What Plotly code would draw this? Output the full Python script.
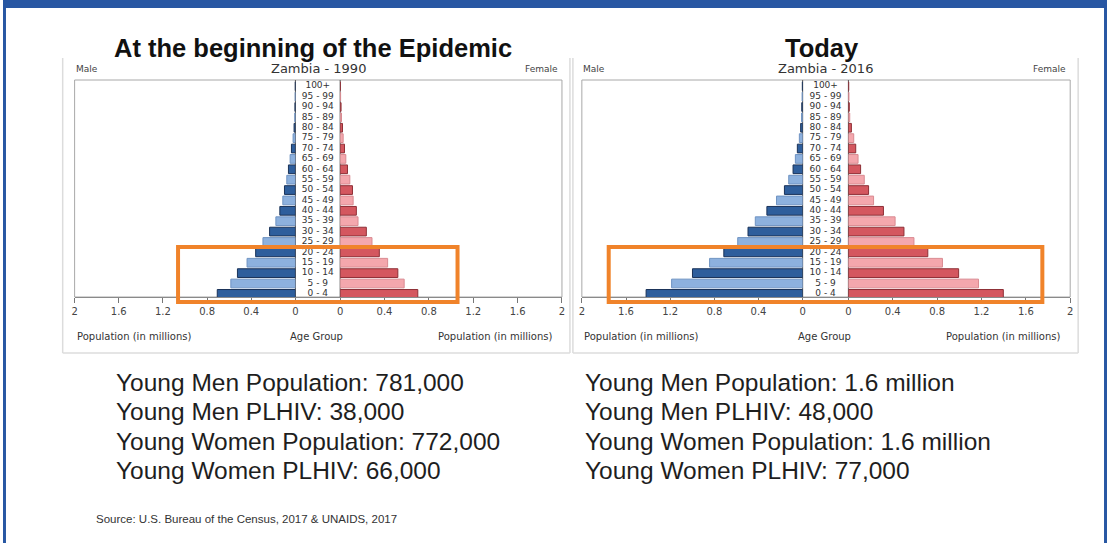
import plotly.graph_objects as go

W, H = 1110, 543

age_groups = ["0 - 4", "5 - 9", "10 - 14", "15 - 19", "20 - 24", "25 - 29", "30 - 34",
              "35 - 39", "40 - 44", "45 - 49", "50 - 54", "55 - 59", "60 - 64", "65 - 69",
              "70 - 74", "75 - 79", "80 - 84", "85 - 89", "90 - 94", "95 - 99", "100+"]

male_1990 = [0.708, 0.585, 0.525, 0.438, 0.360, 0.294, 0.234, 0.177, 0.141, 0.114, 0.099,
             0.078, 0.063, 0.048, 0.036, 0.021, 0.012, 0.006, 0.004, 0.002, 0.001]
female_1990 = [0.700, 0.577, 0.520, 0.428, 0.353, 0.287, 0.236, 0.161, 0.146, 0.117, 0.111,
               0.087, 0.066, 0.051, 0.039, 0.027, 0.021, 0.012, 0.008, 0.004, 0.002]
male_2016 = [1.418, 1.187, 0.998, 0.843, 0.714, 0.588, 0.495, 0.429, 0.324, 0.237, 0.165,
             0.126, 0.087, 0.066, 0.048, 0.030, 0.018, 0.010, 0.008, 0.005, 0.003]
female_2016 = [1.397, 1.173, 0.994, 0.848, 0.716, 0.591, 0.501, 0.421, 0.316, 0.227, 0.182,
               0.143, 0.110, 0.087, 0.066, 0.048, 0.027, 0.012, 0.008, 0.005, 0.003]

tick_vals = [0, 0.4, 0.8, 1.2, 1.6, 2]
tick_text = ["0", "0.4", "0.8", "1.2", "1.6", "2"]

chart_titles = ["At the beginning of the Epidemic", "Today"]
chart_subtitles = ["Zambia - 1990", "Zambia - 2016"]

stats_1990 = ["Young Men Population: 781,000", "Young Men PLHIV: 38,000",
              "Young Women Population: 772,000", "Young Women PLHIV: 66,000"]
stats_2016 = ["Young Men Population: 1.6 million", "Young Men PLHIV: 48,000",
              "Young Women Population: 1.6 million", "Young Women PLHIV: 77,000"]
source_text = "Source: U.S. Bureau of the Census, 2017 & UNAIDS, 2017"


def px(x):
    return x / W


def py(y):
    return 1 - y / H


BLUE_D, BLUE_L = "#2e5e9c", "#8db1de"
RED_D, RED_L = "#d4575f", "#f4a7ad"
BLUE_D_LINE, BLUE_L_LINE = "#1a3258", "#6f93c2"
RED_D_LINE, RED_L_LINE = "#8e2f36", "#d98a91"

male_fill = [BLUE_D if i % 2 == 0 else BLUE_L for i in range(len(age_groups))]
male_line = [BLUE_D_LINE if i % 2 == 0 else BLUE_L_LINE for i in range(len(age_groups))]
female_fill = [RED_D if i % 2 == 0 else RED_L for i in range(len(age_groups))]
female_line = [RED_D_LINE if i % 2 == 0 else RED_L_LINE for i in range(len(age_groups))]

CHART_FONT = "DejaVu Sans"
TEXT_FONT = "Liberation Sans, Arial"

fig = go.Figure()

panels = [
    dict(left=72, mzero=294, fzero=339, right=562, male=male_1990, female=female_1990,
         title_x=312, sub_x=317, frame=(60, 570), stats=stats_1990, stats_x=112,
         box=(176, 457)),
    dict(left=582, mzero=804, fzero=850, right=1073, male=male_2016, female=female_2016,
         title_x=823, sub_x=827, frame=(573, 1081), stats=stats_2016, stats_x=583,
         box=(609, 1045)),
]

TOP, BOTTOM = 80, 297
ydom = [py(BOTTOM), py(TOP)]

layout_axes = {}
shapes = []
annotations = []
ax_i = 0
for p_i, p in enumerate(panels):
    names = []
    for k in range(3):
        ax_i += 1
        names.append("x" if ax_i == 1 else f"x{ax_i}")
    xm, xf, xc = names
    fig.add_trace(go.Bar(
        y=age_groups, x=p["male"], orientation="h", xaxis=xm, yaxis="y",
        marker=dict(color=male_fill, line=dict(color=male_line, width=1)),
        showlegend=False, hoverinfo="x+y"))
    fig.add_trace(go.Bar(
        y=age_groups, x=p["female"], orientation="h", xaxis=xf, yaxis="y",
        marker=dict(color=female_fill, line=dict(color=female_line, width=1)),
        showlegend=False, hoverinfo="x+y"))
    fig.add_trace(go.Scatter(
        y=age_groups, x=[0] * len(age_groups), mode="text", text=age_groups,
        textfont=dict(family=CHART_FONT, size=9, color="#333333"),
        xaxis=xc, yaxis="y", showlegend=False, hoverinfo="skip", cliponaxis=False))

    common = dict(showgrid=False, zeroline=False, anchor="y", fixedrange=True,
                  showline=True, linecolor="#8a8a8a", linewidth=1,
                  ticks="outside", ticklen=5, tickcolor="#777777",
                  tickvals=tick_vals, ticktext=tick_text,
                  tickfont=dict(family=CHART_FONT, size=10, color="#444444"))
    layout_axes["xaxis" if xm == "x" else "xaxis" + xm[1:]] = dict(
        domain=[px(p["left"]), px(p["mzero"])], range=[2, 0], **common)
    layout_axes["xaxis" + xf[1:]] = dict(
        domain=[px(p["fzero"]), px(p["right"])], range=[0, 2], **common)
    layout_axes["xaxis" + xc[1:]] = dict(
        domain=[px(p["mzero"]), px(p["fzero"])], range=[-1, 1], anchor="y",
        showgrid=False, zeroline=False, showline=True, linecolor="#8a8a8a",
        showticklabels=False, ticks="", fixedrange=True)

    fl, fr = p["frame"]
    for (x0, y0, x1, y1) in [(fl, 58, fl, 353), (fr, 58, fr, 353), (fl, 353, fr, 353)]:
        shapes.append(dict(type="line", xref="paper", yref="paper",
                           x0=px(x0), y0=py(y0), x1=px(x1), y1=py(y1),
                           line=dict(color="#dcdcdc", width=1.5), layer="below"))
    shapes.append(dict(type="rect", xref="paper", yref="paper",
                       x0=px(p["left"]), y0=py(BOTTOM), x1=px(p["right"]), y1=py(TOP),
                       line=dict(color="#a8a8a8", width=1), layer="below"))
    for zx in (p["mzero"], p["fzero"]):
        shapes.append(dict(type="line", xref="paper", yref="paper",
                           x0=px(zx), y0=py(BOTTOM), x1=px(zx), y1=py(TOP),
                           line=dict(color="#555555", width=1), layer="below"))
    bx0, bx1 = p["box"]
    shapes.append(dict(type="rect", xref="paper", yref="paper",
                       x0=px(bx0), y0=py(302), x1=px(bx1), y1=py(247),
                       line=dict(color="#f0832a", width=4), layer="above"))

    annotations.append(dict(text="<b>" + chart_titles[p_i] + "</b>", x=px(p["title_x"]), y=py(48),
                            xanchor="center", yanchor="middle",
                            font=dict(family=TEXT_FONT, size=25.5, color="#111111")))
    annotations.append(dict(text=chart_subtitles[p_i], x=px(p["sub_x"]), y=py(68),
                            xanchor="center", yanchor="middle",
                            font=dict(family=CHART_FONT, size=13, color="#333333")))
    annotations.append(dict(text="Male", x=px(p["left"] - 1), y=py(69), xanchor="left",
                            yanchor="middle", font=dict(family=CHART_FONT, size=9, color="#444444")))
    annotations.append(dict(text="Female", x=px(p["right"] - 2), y=py(69), xanchor="right",
                            yanchor="middle", font=dict(family=CHART_FONT, size=9, color="#444444")))
    annotations.append(dict(text="Population (in millions)", x=px(p["left"]), y=py(336),
                            xanchor="left", yanchor="middle",
                            font=dict(family=CHART_FONT, size=10, color="#333333")))
    annotations.append(dict(text="Population (in millions)", x=px(p["right"] - 8), y=py(336),
                            xanchor="right", yanchor="middle",
                            font=dict(family=CHART_FONT, size=10, color="#333333")))
    annotations.append(dict(text="Age Group", x=px((p["mzero"] + p["fzero"]) / 2 - 1), y=py(336),
                            xanchor="center", yanchor="middle",
                            font=dict(family=CHART_FONT, size=10, color="#333333")))
    for j, line in enumerate(p["stats"]):
        annotations.append(dict(text=line, x=px(p["stats_x"]), y=py(382 + 29.5 * j),
                                xanchor="left", yanchor="middle",
                                font=dict(family=TEXT_FONT, size=24.5, color="#1e1e1e")))

annotations.append(dict(text=source_text, x=px(91), y=py(519), xanchor="left", yanchor="middle",
                        font=dict(family=TEXT_FONT, size=11.5, color="#333333")))
for a in annotations:
    a.update(xref="paper", yref="paper", showarrow=False)

shapes += [
    dict(type="rect", xref="paper", yref="paper", x0=0, x1=1, y0=py(8), y1=1,
         fillcolor="#2857a3", line=dict(width=0), layer="below"),
    dict(type="rect", xref="paper", yref="paper", x0=0, x1=px(3), y0=0, y1=1,
         fillcolor="#2857a3", line=dict(width=0), layer="below"),
    dict(type="rect", xref="paper", yref="paper", x0=px(1107), x1=1, y0=0, y1=1,
         fillcolor="#2857a3", line=dict(width=0), layer="below"),
]

fig.update_layout(
    width=W, height=H, margin=dict(l=0, r=0, t=0, b=0),
    paper_bgcolor="white", plot_bgcolor="rgba(0,0,0,0)",
    bargap=0.16, showlegend=False,
    yaxis=dict(domain=ydom, range=[-0.3, 20.6], type="category", showticklabels=False,
               showgrid=False, zeroline=False, showline=False, ticks="", fixedrange=True,
               categoryorder="array", categoryarray=age_groups),
    shapes=shapes, annotations=annotations,
    **layout_axes,
)

fig.write_html("out.html", config={"displayModeBar": False},
               post_script="document.body.style.margin='0';document.body.style.overflow='hidden';")
